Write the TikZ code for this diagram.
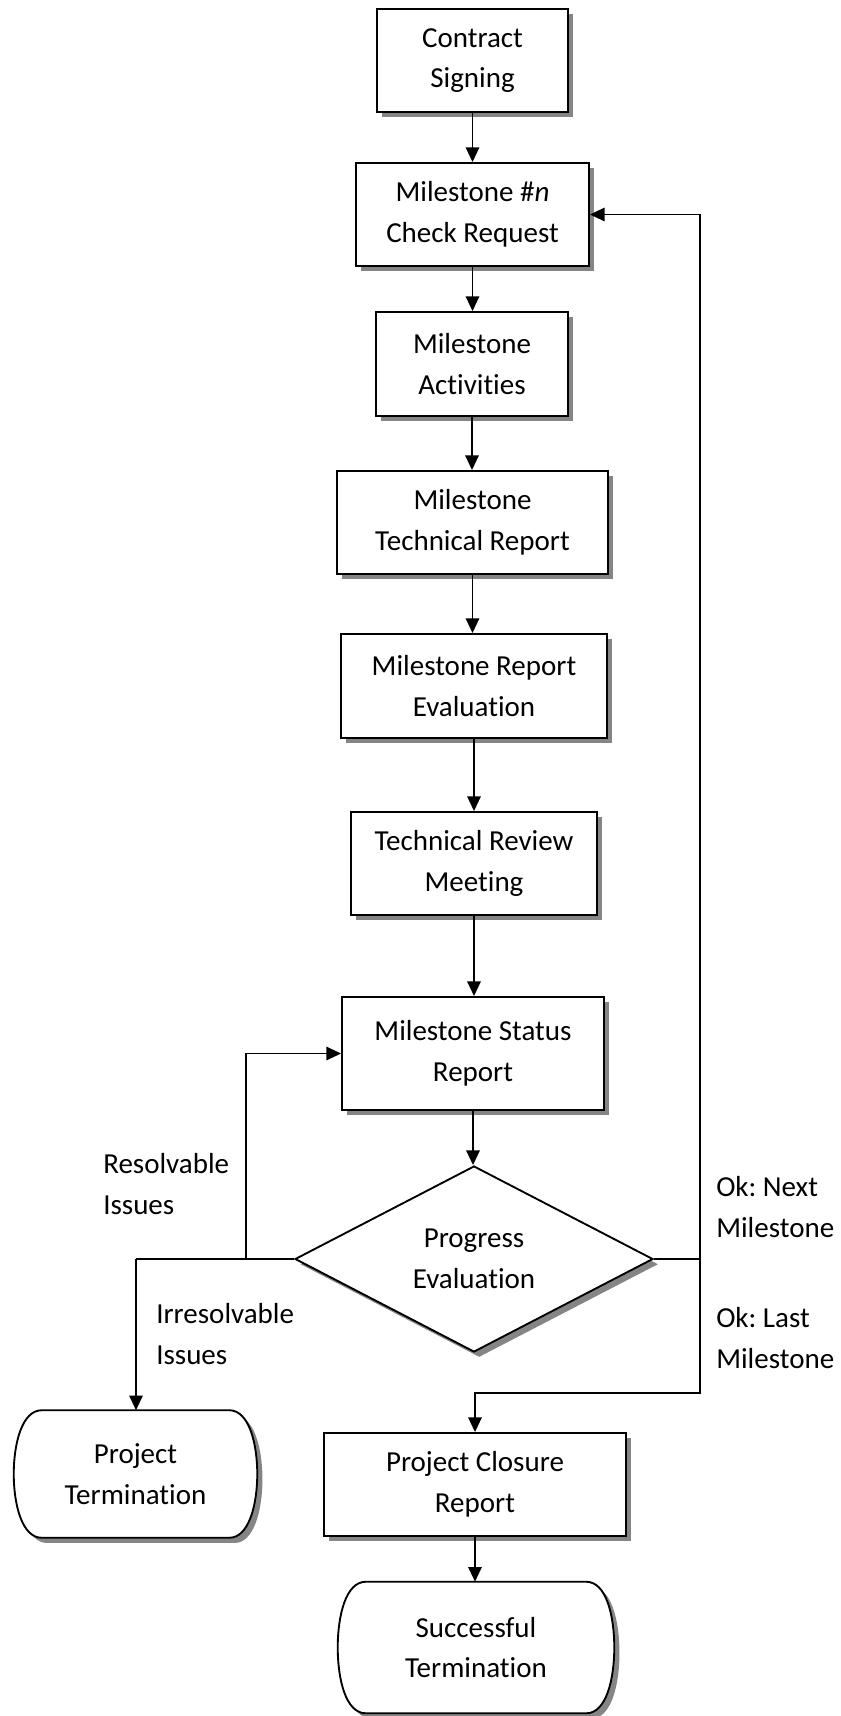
\documentclass[tikz,border=0pt]{standalone}
\usepackage{fontspec}
\setmainfont{Carlito}[Ligatures=NoCommon]
\frenchspacing
\usetikzlibrary{arrows.meta,shapes.geometric,shadows,calc,backgrounds}
\tikzset{
  shadowcol/.style={fill=black!48},
  box/.style={draw, line width=1.4pt, fill=white, rectangle, inner sep=0pt, align=center,
    font=\fontsize{21.75pt}{30.5pt}\selectfont,
    drop shadow={shadow xshift=3.9pt, shadow yshift=-3.9pt, fill=black!48, opacity=1}},
  dia/.style={draw, line width=1.4pt, fill=white, diamond, inner sep=0pt, align=center,
    font=\fontsize{21.75pt}{30.5pt}\selectfont,
    drop shadow={shadow xshift=3.9pt, shadow yshift=-3.9pt, fill=black!48, opacity=1}},
  termbox/.style={rectangle, inner sep=0pt, align=center,
    font=\fontsize{21.75pt}{30.5pt}\selectfont},
  lbl/.style={inner sep=0pt, align=left, anchor=west,
    font=\fontsize{21.75pt}{30.5pt}\selectfont},
  conn/.style={line width=1.4pt, -{Triangle[length=11pt,width=10pt]}},
  line/.style={line width=1.4pt},
  termpath/.style={insert path={
    ($(#1.north west)+(28,0)$) -- ($(#1.north east)+(-28,0)$)
    .. controls ($(#1.north east)+(-8,0)$) and ($(#1.north east)+(0,34)$) .. (#1.east)
    .. controls ($(#1.south east)+(0,-34)$) and ($(#1.south east)+(-8,0)$) .. ($(#1.south east)+(-28,0)$)
    -- ($(#1.south west)+(28,0)$)
    .. controls ($(#1.south west)+(8,0)$) and ($(#1.south west)+(0,-34)$) .. (#1.west)
    .. controls ($(#1.north west)+(0,34)$) and ($(#1.north west)+(8,0)$) .. cycle}}
}
\begin{document}
\begin{tikzpicture}[x=0.75pt,y=-0.75pt]
\useasboundingbox (0,0) rectangle (841,1716);

\node[box, minimum width=143.25pt, minimum height=77.25pt] (contract) at (472.5,60.5) {Contract\\Signing};
\node[box, minimum width=174.75pt, minimum height=77.25pt] (check) at (472.5,214.5) {Milestone \#\textit{n}\\Check Request};
\node[box, minimum width=144pt, minimum height=78pt] (activ) at (472,364) {Milestone\\Activities};
\node[box, minimum width=203.25pt, minimum height=77.25pt] (techrep) at (472.5,522.5) {Milestone\\Technical Report};
\node[box, minimum width=199.5pt, minimum height=78pt] (repeval) at (474,686) {Milestone Report\\Evaluation};
\node[box, minimum width=184.5pt, minimum height=77.25pt] (review) at (474,863.5) {Technical Review\\Meeting};
\node[box, minimum width=196.5pt, minimum height=84.75pt] (status) at (473,1053.5) {Milestone Status\\Report};
\node[dia, minimum width=268.5pt, minimum height=139.5pt] (prog) at (474,1259) {Progress\\Evaluation};
\node[box, minimum width=226.5pt, minimum height=77.25pt] (closure) at (475,1484.5) {Project Closure\\Report};

\node[termbox, minimum width=182.25pt, minimum height=95.25pt] (pterm) at (135.5,1474) {Project\\Termination};
\node[termbox, minimum width=207pt, minimum height=98.25pt] (succ) at (476,1647.5) {Successful\\Termination};

\begin{scope}[on background layer]
  \fill[shadowcol, transform canvas={shift={(3.9pt,-3.9pt)}}, termpath=pterm];
  \draw[line, fill=white, termpath=pterm];
  \fill[shadowcol, transform canvas={shift={(3.9pt,-3.9pt)}}, termpath=succ];
  \draw[line, fill=white, termpath=succ];
\end{scope}

\draw[conn] (contract.south) -- (contract.south |- check.north);
\draw[conn] (check.south) -- (check.south |- activ.north);
\draw[conn] (activ.south) -- (activ.south |- techrep.north);
\draw[conn] (techrep.south) -- (techrep.south |- repeval.north);
\draw[conn] (repeval.south) -- (repeval.south |- review.north);
\draw[conn] (review.south) -- (review.south |- status.north);
\draw[conn] (status.south) -- (status.south |- prog.north);

\coordinate (lj) at (136,1259);
\coordinate (rj) at (246,1259);
\coordinate (rr) at (700,1259);
\coordinate (rb) at (700,1393);

\draw[line] (prog.west) -- (lj);
\draw[conn] (lj) -- (lj |- pterm.north);
\draw[conn] (rj) |- (status.west);
\draw[line] (prog.east) -- (rr);
\draw[conn] (rr) |- (check.east);
\draw[conn] (rr) -- (rb) -| (closure.north);
\draw[conn] (closure.south) -- (closure.south |- succ.north);

\node[lbl] (lres) at (103,1184) {Resolvable\\Issues};
\node[lbl] (lirr) at (156,1334) {Irresolvable\\Issues};
\node[lbl] (lnext) at (716,1207) {Ok: Next\\Milestone};
\node[lbl] (llast) at (716,1338) {Ok: Last\\Milestone};
\end{tikzpicture}
\end{document}
